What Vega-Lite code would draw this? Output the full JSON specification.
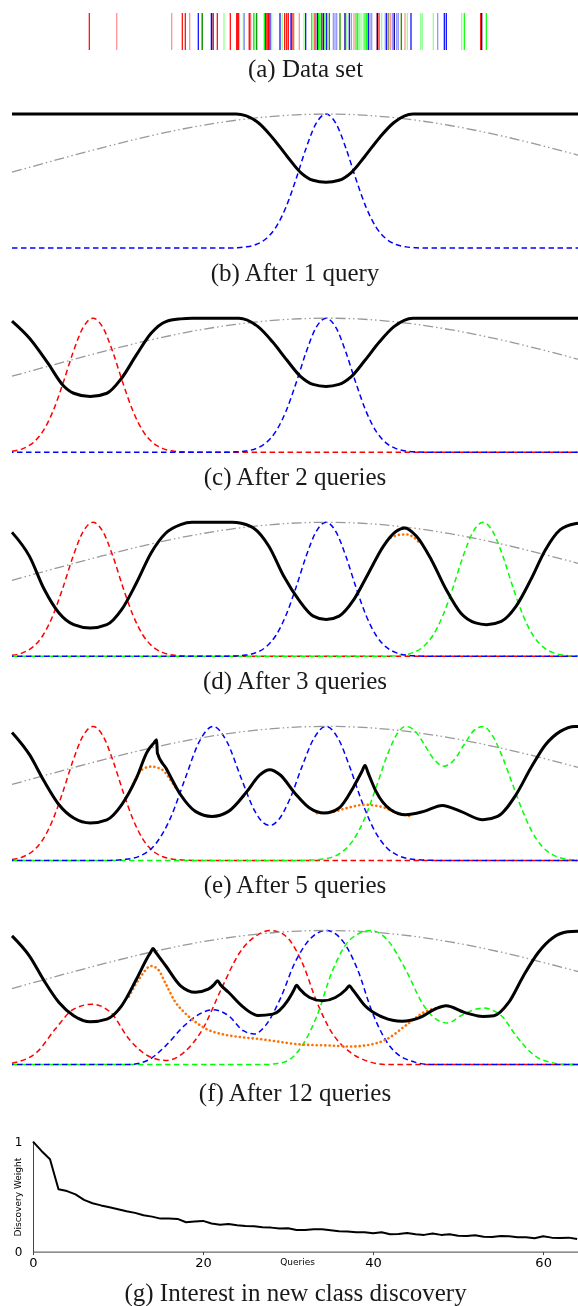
{
"$schema": "https://vega.github.io/schema/vega-lite/v6.json",
"background": "white",
"padding": {"left": 9, "top": 12, "right": 0, "bottom": 0},
"spacing": 29.1,
"align": "none",
"config": {
  "view": {"stroke": null},
  "title": {"font": "Liberation Serif", "fontSize": 25, "fontWeight": "normal", "color": "#1a1a1a", "orient": "bottom", "anchor": "middle", "frame": "bounds"}
},
"resolve": {"scale": {"x": "independent", "y": "independent", "color": "independent", "opacity": "independent"}},
"datasets": {
  "prior": [{"x":12,"v":0.567},{"x":50,"v":0.645},{"x":100,"v":0.745},{"x":150,"v":0.837},{"x":200,"v":0.913},{"x":250,"v":0.967},{"x":300,"v":0.996},{"x":326,"v":1},{"x":350,"v":0.997},{"x":400,"v":0.969},{"x":450,"v":0.915},{"x":500,"v":0.84},{"x":550,"v":0.749},{"x":578,"v":0.694}],
  "b": [
    {"s":"interest","x":12,"v":1},{"s":"interest","x":236,"v":1},{"s":"interest","x":258,"v":0.937},{"s":"interest","x":272.5,"v":0.824},{"s":"interest","x":287,"v":0.686},{"s":"interest","x":301,"v":0.562},{"s":"interest","x":313,"v":0.506},{"s":"interest","x":326,"v":0.491},{"s":"interest","x":339,"v":0.506},{"s":"interest","x":351,"v":0.562},{"s":"interest","x":365,"v":0.686},{"s":"interest","x":379.5,"v":0.824},{"s":"interest","x":394,"v":0.937},{"s":"interest","x":413,"v":1},{"s":"interest","x":578,"v":1},
    {"s":"B","x":12,"v":0},{"s":"B","x":226,"v":0},{"s":"B","x":236,"v":0.0025},{"s":"B","x":246,"v":0.009},{"s":"B","x":256,"v":0.027},{"s":"B","x":266,"v":0.07},{"s":"B","x":276,"v":0.157},{"s":"B","x":286,"v":0.306},{"s":"B","x":296,"v":0.514},{"s":"B","x":306,"v":0.744},{"s":"B","x":316,"v":0.929},{"s":"B","x":326,"v":1},{"s":"B","x":336,"v":0.929},{"s":"B","x":346,"v":0.744},{"s":"B","x":356,"v":0.514},{"s":"B","x":366,"v":0.306},{"s":"B","x":376,"v":0.157},{"s":"B","x":386,"v":0.07},{"s":"B","x":396,"v":0.027},{"s":"B","x":406,"v":0.009},{"s":"B","x":416,"v":0.0025},{"s":"B","x":426,"v":0},{"s":"B","x":578,"v":0}
  ],
  "c": [
    {"s":"interest","x":12,"v":0.978},{"s":"interest","x":29.5,"v":0.85},{"s":"interest","x":47.9,"v":0.664},{"s":"interest","x":62.7,"v":0.502},{"s":"interest","x":73.7,"v":0.44},{"s":"interest","x":90.3,"v":0.415},{"s":"interest","x":106.9,"v":0.44},{"s":"interest","x":121.6,"v":0.552},{"s":"interest","x":136.4,"v":0.726},{"s":"interest","x":151.1,"v":0.888},{"s":"interest","x":165.9,"v":0.975},{"s":"interest","x":180.6,"v":0.995},{"s":"interest","x":192,"v":1},{"s":"interest","x":239,"v":1},{"s":"interest","x":258,"v":0.937},{"s":"interest","x":272.5,"v":0.824},{"s":"interest","x":287,"v":0.686},{"s":"interest","x":301,"v":0.562},{"s":"interest","x":313,"v":0.506},{"s":"interest","x":326,"v":0.491},{"s":"interest","x":339,"v":0.506},{"s":"interest","x":351,"v":0.562},{"s":"interest","x":365,"v":0.686},{"s":"interest","x":379.5,"v":0.824},{"s":"interest","x":394,"v":0.937},{"s":"interest","x":413,"v":1},{"s":"interest","x":578,"v":1},
    {"s":"A","x":12,"v":0.007},{"s":"A","x":23,"v":0.027},{"s":"A","x":33,"v":0.07},{"s":"A","x":43,"v":0.157},{"s":"A","x":53,"v":0.306},{"s":"A","x":63,"v":0.514},{"s":"A","x":73,"v":0.744},{"s":"A","x":83,"v":0.929},{"s":"A","x":93,"v":1},{"s":"A","x":103,"v":0.929},{"s":"A","x":113,"v":0.744},{"s":"A","x":123,"v":0.514},{"s":"A","x":133,"v":0.306},{"s":"A","x":143,"v":0.157},{"s":"A","x":153,"v":0.07},{"s":"A","x":163,"v":0.027},{"s":"A","x":173,"v":0.009},{"s":"A","x":183,"v":0.0025},{"s":"A","x":193,"v":0},{"s":"A","x":578,"v":0},
    {"s":"B","x":12,"v":0},{"s":"B","x":226,"v":0},{"s":"B","x":236,"v":0.0025},{"s":"B","x":246,"v":0.009},{"s":"B","x":256,"v":0.027},{"s":"B","x":266,"v":0.07},{"s":"B","x":276,"v":0.157},{"s":"B","x":286,"v":0.306},{"s":"B","x":296,"v":0.514},{"s":"B","x":306,"v":0.744},{"s":"B","x":316,"v":0.929},{"s":"B","x":326,"v":1},{"s":"B","x":336,"v":0.929},{"s":"B","x":346,"v":0.744},{"s":"B","x":356,"v":0.514},{"s":"B","x":366,"v":0.306},{"s":"B","x":376,"v":0.157},{"s":"B","x":386,"v":0.07},{"s":"B","x":396,"v":0.027},{"s":"B","x":406,"v":0.009},{"s":"B","x":416,"v":0.0025},{"s":"B","x":426,"v":0},{"s":"B","x":578,"v":0}
  ],
  "d": [
    {"s":"interest","x":12,"v":0.925},{"s":"interest","x":29.5,"v":0.746},{"s":"interest","x":44.2,"v":0.5},{"s":"interest","x":59,"v":0.323},{"s":"interest","x":73.7,"v":0.236},{"s":"interest","x":90.3,"v":0.211},{"s":"interest","x":106.9,"v":0.236},{"s":"interest","x":121.6,"v":0.348},{"s":"interest","x":136.4,"v":0.547},{"s":"interest","x":151.1,"v":0.771},{"s":"interest","x":165.9,"v":0.92},{"s":"interest","x":180.6,"v":0.983},{"s":"interest","x":192,"v":1},{"s":"interest","x":232,"v":1},{"s":"interest","x":250.6,"v":0.97},{"s":"interest","x":269,"v":0.82},{"s":"interest","x":283.8,"v":0.597},{"s":"interest","x":298.6,"v":0.423},{"s":"interest","x":313.3,"v":0.3},{"s":"interest","x":326.2,"v":0.274},{"s":"interest","x":339.1,"v":0.3},{"s":"interest","x":353.8,"v":0.423},{"s":"interest","x":368.6,"v":0.622},{"s":"interest","x":383.3,"v":0.821},{"s":"interest","x":396.2,"v":0.933},{"s":"interest","x":404.7,"v":0.958},{"s":"interest","x":416.5,"v":0.896},{"s":"interest","x":431.3,"v":0.721},{"s":"interest","x":446,"v":0.5},{"s":"interest","x":460.7,"v":0.323},{"s":"interest","x":475.5,"v":0.249},{"s":"interest","x":486.5,"v":0.236},{"s":"interest","x":501.3,"v":0.261},{"s":"interest","x":516,"v":0.373},{"s":"interest","x":530.8,"v":0.572},{"s":"interest","x":545.5,"v":0.796},{"s":"interest","x":560.3,"v":0.945},{"s":"interest","x":575,"v":0.99},{"s":"interest","x":578,"v":0.993},
    {"s":"A","x":12,"v":0.007},{"s":"A","x":23,"v":0.027},{"s":"A","x":33,"v":0.07},{"s":"A","x":43,"v":0.157},{"s":"A","x":53,"v":0.306},{"s":"A","x":63,"v":0.514},{"s":"A","x":73,"v":0.744},{"s":"A","x":83,"v":0.929},{"s":"A","x":93,"v":1},{"s":"A","x":103,"v":0.929},{"s":"A","x":113,"v":0.744},{"s":"A","x":123,"v":0.514},{"s":"A","x":133,"v":0.306},{"s":"A","x":143,"v":0.157},{"s":"A","x":153,"v":0.07},{"s":"A","x":163,"v":0.027},{"s":"A","x":173,"v":0.009},{"s":"A","x":183,"v":0.0025},{"s":"A","x":193,"v":0},{"s":"A","x":578,"v":0},
    {"s":"B","x":12,"v":0},{"s":"B","x":226,"v":0},{"s":"B","x":236,"v":0.0025},{"s":"B","x":246,"v":0.009},{"s":"B","x":256,"v":0.027},{"s":"B","x":266,"v":0.07},{"s":"B","x":276,"v":0.157},{"s":"B","x":286,"v":0.306},{"s":"B","x":296,"v":0.514},{"s":"B","x":306,"v":0.744},{"s":"B","x":316,"v":0.929},{"s":"B","x":326,"v":1},{"s":"B","x":336,"v":0.929},{"s":"B","x":346,"v":0.744},{"s":"B","x":356,"v":0.514},{"s":"B","x":366,"v":0.306},{"s":"B","x":376,"v":0.157},{"s":"B","x":386,"v":0.07},{"s":"B","x":396,"v":0.027},{"s":"B","x":406,"v":0.009},{"s":"B","x":416,"v":0.0025},{"s":"B","x":426,"v":0},{"s":"B","x":578,"v":0},
    {"s":"C","x":12,"v":0},{"s":"C","x":383,"v":0},{"s":"C","x":393,"v":0.0025},{"s":"C","x":403,"v":0.009},{"s":"C","x":413,"v":0.027},{"s":"C","x":423,"v":0.07},{"s":"C","x":433,"v":0.157},{"s":"C","x":443,"v":0.306},{"s":"C","x":453,"v":0.514},{"s":"C","x":463,"v":0.744},{"s":"C","x":473,"v":0.929},{"s":"C","x":483,"v":1},{"s":"C","x":493,"v":0.929},{"s":"C","x":503,"v":0.744},{"s":"C","x":513,"v":0.514},{"s":"C","x":523,"v":0.306},{"s":"C","x":533,"v":0.157},{"s":"C","x":543,"v":0.07},{"s":"C","x":553,"v":0.027},{"s":"C","x":563,"v":0.009},{"s":"C","x":573,"v":0.0025},{"s":"C","x":578,"v":0.001},
    {"s":"mix","seg":1,"x":390.7,"v":0.885},{"s":"mix","seg":1,"x":398,"v":0.905},{"s":"mix","seg":1,"x":405.5,"v":0.91},{"s":"mix","seg":1,"x":412.8,"v":0.893},{"s":"mix","seg":1,"x":420.2,"v":0.84}
  ],
  "e": [
    {"s":"interest","x":12,"v":0.955},{"s":"interest","x":29.5,"v":0.789},{"s":"interest","x":44.2,"v":0.59},{"s":"interest","x":59,"v":0.415},{"s":"interest","x":73.7,"v":0.316},{"s":"interest","x":90.3,"v":0.279},{"s":"interest","x":106.9,"v":0.303},{"s":"interest","x":121.6,"v":0.415},{"s":"interest","x":136.4,"v":0.614},{"s":"interest","x":147.4,"v":0.813},{"s":"interest","x":154,"v":0.877},{"s":"interest","x":156.6,"v":0.9},{"s":"interest","x":157.4,"v":0.8},{"s":"interest","x":165.9,"v":0.689},{"s":"interest","x":180.6,"v":0.49},{"s":"interest","x":195.4,"v":0.366},{"s":"interest","x":212,"v":0.328},{"s":"interest","x":228.5,"v":0.366},{"s":"interest","x":247,"v":0.515},{"s":"interest","x":259.9,"v":0.639},{"s":"interest","x":269.8,"v":0.677},{"s":"interest","x":280,"v":0.639},{"s":"interest","x":294.9,"v":0.502},{"s":"interest","x":309.6,"v":0.391},{"s":"interest","x":324.4,"v":0.353},{"s":"interest","x":339.1,"v":0.391},{"s":"interest","x":353.8,"v":0.552},{"s":"interest","x":362,"v":0.665},{"s":"interest","x":365,"v":0.709},{"s":"interest","x":368,"v":0.655},{"s":"interest","x":376,"v":0.515},{"s":"interest","x":390.7,"v":0.378},{"s":"interest","x":405.5,"v":0.341},{"s":"interest","x":423.9,"v":0.366},{"s":"interest","x":442.3,"v":0.41},{"s":"interest","x":460.7,"v":0.366},{"s":"interest","x":482.9,"v":0.303},{"s":"interest","x":497.6,"v":0.328},{"s":"interest","x":516,"v":0.49},{"s":"interest","x":530.8,"v":0.689},{"s":"interest","x":545.5,"v":0.863},{"s":"interest","x":560.3,"v":0.963},{"s":"interest","x":575,"v":1},{"s":"interest","x":578,"v":1},
    {"s":"A","x":12,"v":0.007},{"s":"A","x":23,"v":0.027},{"s":"A","x":33,"v":0.07},{"s":"A","x":43,"v":0.157},{"s":"A","x":53,"v":0.306},{"s":"A","x":63,"v":0.514},{"s":"A","x":73,"v":0.744},{"s":"A","x":83,"v":0.929},{"s":"A","x":93,"v":1},{"s":"A","x":103,"v":0.929},{"s":"A","x":113,"v":0.744},{"s":"A","x":123,"v":0.514},{"s":"A","x":133,"v":0.306},{"s":"A","x":143,"v":0.157},{"s":"A","x":153,"v":0.07},{"s":"A","x":163,"v":0.027},{"s":"A","x":173,"v":0.009},{"s":"A","x":183,"v":0.0025},{"s":"A","x":193,"v":0},{"s":"A","x":578,"v":0},
    {"s":"B","x":12,"v":0},{"s":"B","x":110,"v":0},{"s":"B","x":125,"v":0.007},{"s":"B","x":140,"v":0.033},{"s":"B","x":155,"v":0.117},{"s":"B","x":170,"v":0.308},{"s":"B","x":185,"v":0.607},{"s":"B","x":199,"v":0.882},{"s":"B","x":213,"v":1},{"s":"B","x":227,"v":0.884},{"s":"B","x":241,"v":0.617},{"s":"B","x":255,"v":0.365},{"s":"B","x":263,"v":0.283},{"s":"B","x":270,"v":0.261},{"s":"B","x":278,"v":0.298},{"s":"B","x":290,"v":0.46},{"s":"B","x":302,"v":0.7},{"s":"B","x":314,"v":0.912},{"s":"B","x":326,"v":1},{"s":"B","x":338,"v":0.912},{"s":"B","x":350,"v":0.693},{"s":"B","x":362,"v":0.437},{"s":"B","x":374,"v":0.23},{"s":"B","x":386,"v":0.1},{"s":"B","x":398,"v":0.037},{"s":"B","x":410,"v":0.011},{"s":"B","x":425,"v":0.002},{"s":"B","x":440,"v":0},{"s":"B","x":578,"v":0},
    {"s":"C","x":12,"v":0},{"s":"C","x":300,"v":0},{"s":"C","x":310,"v":0.002},{"s":"C","x":325,"v":0.012},{"s":"C","x":340,"v":0.052},{"s":"C","x":352,"v":0.138},{"s":"C","x":364,"v":0.302},{"s":"C","x":376,"v":0.542},{"s":"C","x":388,"v":0.8},{"s":"C","x":398,"v":0.954},{"s":"C","x":405.5,"v":1},{"s":"C","x":414,"v":0.974},{"s":"C","x":424,"v":0.869},{"s":"C","x":434,"v":0.754},{"s":"C","x":444,"v":0.703},{"s":"C","x":454,"v":0.749},{"s":"C","x":464,"v":0.863},{"s":"C","x":474,"v":0.97},{"s":"C","x":483,"v":1},{"s":"C","x":492,"v":0.937},{"s":"C","x":502,"v":0.78},{"s":"C","x":512,"v":0.58},{"s":"C","x":522,"v":0.38},{"s":"C","x":532,"v":0.215},{"s":"C","x":542,"v":0.105},{"s":"C","x":552,"v":0.045},{"s":"C","x":562,"v":0.016},{"s":"C","x":572,"v":0.005},{"s":"C","x":578,"v":0.002},
    {"s":"mix","seg":1,"x":133,"v":0.57},{"s":"mix","seg":1,"x":141.9,"v":0.677},{"s":"mix","seg":1,"x":151.1,"v":0.7},{"s":"mix","seg":1,"x":162.2,"v":0.677},{"s":"mix","seg":1,"x":171.4,"v":0.59},{"s":"mix","seg":1,"x":177,"v":0.527},
    {"s":"mix","seg":2,"x":317,"v":0.353},{"s":"mix","seg":2,"x":331.7,"v":0.36},{"s":"mix","seg":2,"x":346.5,"v":0.39},{"s":"mix","seg":2,"x":365,"v":0.415},{"s":"mix","seg":2,"x":383.3,"v":0.396},{"s":"mix","seg":2,"x":398,"v":0.353},{"s":"mix","seg":2,"x":411,"v":0.328}
  ],
  "f": [
    {"s":"interest","x":12,"v":0.96},{"s":"interest","x":29.5,"v":0.809},{"s":"interest","x":44.2,"v":0.624},{"s":"interest","x":59,"v":0.463},{"s":"interest","x":73.7,"v":0.364},{"s":"interest","x":90.3,"v":0.319},{"s":"interest","x":106.9,"v":0.339},{"s":"interest","x":121.6,"v":0.438},{"s":"interest","x":136.4,"v":0.636},{"s":"interest","x":147.4,"v":0.797},{"s":"interest","x":150.5,"v":0.835},{"s":"interest","x":153,"v":0.866},{"s":"interest","x":156,"v":0.835},{"s":"interest","x":165.9,"v":0.735},{"s":"interest","x":180.6,"v":0.587},{"s":"interest","x":195.4,"v":0.539},{"s":"interest","x":208.3,"v":0.562},{"s":"interest","x":214.5,"v":0.6},{"s":"interest","x":217.5,"v":0.625},{"s":"interest","x":220.5,"v":0.595},{"s":"interest","x":228.5,"v":0.539},{"s":"interest","x":243.3,"v":0.428},{"s":"interest","x":258,"v":0.366},{"s":"interest","x":272.8,"v":0.376},{"s":"interest","x":287.5,"v":0.475},{"s":"interest","x":293.5,"v":0.55},{"s":"interest","x":296.7,"v":0.592},{"s":"interest","x":299.5,"v":0.565},{"s":"interest","x":309.6,"v":0.5},{"s":"interest","x":322.5,"v":0.475},{"s":"interest","x":335.4,"v":0.5},{"s":"interest","x":346,"v":0.56},{"s":"interest","x":349.4,"v":0.587},{"s":"interest","x":352.5,"v":0.56},{"s":"interest","x":365,"v":0.438},{"s":"interest","x":383.3,"v":0.351},{"s":"interest","x":401.8,"v":0.322},{"s":"interest","x":420.2,"v":0.351},{"s":"interest","x":435,"v":0.413},{"s":"interest","x":446,"v":0.438},{"s":"interest","x":464.4,"v":0.389},{"s":"interest","x":482.9,"v":0.359},{"s":"interest","x":494,"v":0.364},{"s":"interest","x":508.7,"v":0.463},{"s":"interest","x":523.4,"v":0.661},{"s":"interest","x":538.1,"v":0.834},{"s":"interest","x":552.9,"v":0.946},{"s":"interest","x":567.6,"v":0.99},{"s":"interest","x":578,"v":0.995},
    {"s":"A","x":12,"v":0.01},{"s":"A","x":36.9,"v":0.092},{"s":"A","x":55.3,"v":0.265},{"s":"A","x":73.7,"v":0.413},{"s":"A","x":92.1,"v":0.45},{"s":"A","x":110.6,"v":0.389},{"s":"A","x":129,"v":0.19},{"s":"A","x":147.4,"v":0.067},{"s":"A","x":165.9,"v":0.03},{"s":"A","x":184.3,"v":0.092},{"s":"A","x":202.7,"v":0.265},{"s":"A","x":221.2,"v":0.562},{"s":"A","x":239.6,"v":0.834},{"s":"A","x":258,"v":0.97},{"s":"A","x":271,"v":1},{"s":"A","x":283.8,"v":0.97},{"s":"A","x":302.2,"v":0.76},{"s":"A","x":317,"v":0.463},{"s":"A","x":331.7,"v":0.24},{"s":"A","x":350.2,"v":0.092},{"s":"A","x":368.6,"v":0.022},{"s":"A","x":387,"v":0},{"s":"A","x":578,"v":0},
    {"s":"B","x":12,"v":0},{"s":"B","x":129,"v":0},{"s":"B","x":147.4,"v":0.03},{"s":"B","x":165.9,"v":0.141},{"s":"B","x":184.3,"v":0.29},{"s":"B","x":202.7,"v":0.389},{"s":"B","x":213,"v":0.408},{"s":"B","x":228.5,"v":0.364},{"s":"B","x":243.3,"v":0.252},{"s":"B","x":254.3,"v":0.228},{"s":"B","x":265.4,"v":0.29},{"s":"B","x":280.1,"v":0.488},{"s":"B","x":294.9,"v":0.76},{"s":"B","x":309.6,"v":0.933},{"s":"B","x":326.2,"v":1},{"s":"B","x":342.8,"v":0.921},{"s":"B","x":357.5,"v":0.71},{"s":"B","x":372.3,"v":0.389},{"s":"B","x":387,"v":0.166},{"s":"B","x":405.5,"v":0.042},{"s":"B","x":431.3,"v":0},{"s":"B","x":578,"v":0},
    {"s":"C","x":12,"v":0},{"s":"C","x":265.4,"v":0},{"s":"C","x":283.8,"v":0.017},{"s":"C","x":302.2,"v":0.141},{"s":"C","x":317,"v":0.364},{"s":"C","x":331.7,"v":0.686},{"s":"C","x":350.2,"v":0.933},{"s":"C","x":370.4,"v":1},{"s":"C","x":387,"v":0.933},{"s":"C","x":405.5,"v":0.71},{"s":"C","x":423.9,"v":0.438},{"s":"C","x":438.6,"v":0.327},{"s":"C","x":447.8,"v":0.309},{"s":"C","x":460.7,"v":0.364},{"s":"C","x":482.9,"v":0.421},{"s":"C","x":501.3,"v":0.364},{"s":"C","x":516,"v":0.215},{"s":"C","x":534.5,"v":0.067},{"s":"C","x":552.9,"v":0.012},{"s":"C","x":567.6,"v":0},{"s":"C","x":578,"v":0},
    {"s":"mix","seg":1,"x":129,"v":0.507},{"s":"mix","seg":1,"x":140,"v":0.648},{"s":"mix","seg":1,"x":151,"v":0.735},{"s":"mix","seg":1,"x":158,"v":0.71},{"s":"mix","seg":1,"x":165.9,"v":0.6},{"s":"mix","seg":1,"x":175,"v":0.47},{"s":"mix","seg":1,"x":184.3,"v":0.389},{"s":"mix","seg":1,"x":195,"v":0.32},{"s":"mix","seg":1,"x":206.4,"v":0.265},{"s":"mix","seg":1,"x":221.2,"v":0.228},{"s":"mix","seg":1,"x":240,"v":0.205},{"s":"mix","seg":1,"x":258,"v":0.191},{"s":"mix","seg":1,"x":277,"v":0.172},{"s":"mix","seg":1,"x":295,"v":0.153},{"s":"mix","seg":1,"x":313,"v":0.145},{"s":"mix","seg":1,"x":331.7,"v":0.141},{"s":"mix","seg":1,"x":350,"v":0.134},{"s":"mix","seg":1,"x":368.6,"v":0.146},{"s":"mix","seg":1,"x":387,"v":0.19},{"s":"mix","seg":1,"x":405.5,"v":0.29},{"s":"mix","seg":1,"x":423.9,"v":0.389},{"s":"mix","seg":1,"x":440,"v":0.428}
  ]
},
"vconcat": [
  {
    "width": 545, "height": 37,
    "title": {"text": "(a) Data set", "orient": "bottom", "offset": 6},
    "data": {"values": [
      {"x":89.3,"c":"A","w":1},{"x":116.7,"c":"A","w":0.5},{"x":171.7,"c":"A","w":0.5},{"x":182.3,"c":"A","w":1},{"x":185.3,"c":"A","w":1},{"x":189.7,"c":"A","w":0.5},{"x":198.3,"c":"B","w":1},{"x":201.7,"c":"C","w":0.5},{"x":202.3,"c":"C","w":1},{"x":202.3,"c":"A","w":0.5},{"x":211,"c":"B","w":0.5},{"x":211.7,"c":"B","w":1},{"x":211.7,"c":"A","w":0.5},{"x":213.3,"c":"A","w":1},{"x":217.3,"c":"A","w":1},{"x":224,"c":"C","w":0.5},{"x":230.3,"c":"A","w":1},{"x":236.7,"c":"A","w":1},{"x":237.7,"c":"A","w":1},{"x":238.7,"c":"A","w":1},{"x":243.3,"c":"C","w":0.5},{"x":244.3,"c":"B","w":0.5},{"x":248.7,"c":"A","w":0.5},{"x":249.7,"c":"A","w":1},{"x":250.7,"c":"A","w":0.5},{"x":253.7,"c":"C","w":1},{"x":254.7,"c":"C","w":0.5},{"x":256.7,"c":"C","w":1},{"x":256.7,"c":"A","w":0.5},{"x":264.3,"c":"C","w":1},{"x":265.3,"c":"C","w":1},{"x":266,"c":"A","w":1},{"x":267.2,"c":"A","w":1},{"x":268.5,"c":"A","w":1},{"x":270,"c":"B","w":1},{"x":271.7,"c":"C","w":0.5},{"x":280,"c":"B","w":1},{"x":282.3,"c":"C","w":0.5},{"x":284.7,"c":"A","w":1},{"x":286.7,"c":"A","w":1},{"x":288.3,"c":"A","w":1},{"x":291,"c":"B","w":1},{"x":292,"c":"A","w":1},{"x":293.7,"c":"A","w":0.5},{"x":293.7,"c":"C","w":0.5},{"x":299.3,"c":"A","w":0.5},{"x":304,"c":"C","w":0.5},{"x":305.7,"c":"B","w":1},{"x":311.7,"c":"C","w":1},{"x":313.3,"c":"C","w":0.5},{"x":315,"c":"A","w":1},{"x":317.3,"c":"B","w":1},{"x":317.3,"c":"A","w":0.5},{"x":318.5,"c":"C","w":1},{"x":320,"c":"C","w":1},{"x":321.7,"c":"A","w":1},{"x":323.3,"c":"B","w":1},{"x":323.3,"c":"A","w":0.5},{"x":325,"c":"C","w":1},{"x":326.7,"c":"B","w":1},{"x":329.3,"c":"C","w":1},{"x":329.3,"c":"A","w":0.5},{"x":333.3,"c":"B","w":0.5},{"x":335,"c":"B","w":0.5},{"x":336.7,"c":"B","w":0.5},{"x":340,"c":"C","w":1},{"x":340,"c":"A","w":0.5},{"x":345,"c":"B","w":1},{"x":345,"c":"A","w":0.5},{"x":346.7,"c":"C","w":0.5},{"x":349.3,"c":"B","w":1},{"x":351.3,"c":"B","w":0.5},{"x":354,"c":"A","w":0.5},{"x":356,"c":"C","w":1},{"x":357.7,"c":"C","w":1},{"x":359.3,"c":"C","w":0.5},{"x":361,"c":"C","w":0.5},{"x":363.3,"c":"C","w":0.5},{"x":365,"c":"C","w":1},{"x":366.7,"c":"C","w":1},{"x":368.3,"c":"B","w":1},{"x":370,"c":"B","w":0.5},{"x":371.7,"c":"B","w":0.5},{"x":377.3,"c":"B","w":1},{"x":377.3,"c":"A","w":1},{"x":379,"c":"A","w":1},{"x":381.7,"c":"C","w":0.5},{"x":385.3,"c":"B","w":0.5},{"x":386.7,"c":"B","w":1},{"x":388.7,"c":"C","w":0.5},{"x":388.7,"c":"A","w":0.5},{"x":390.7,"c":"A","w":0.5},{"x":392.7,"c":"B","w":0.5},{"x":394.3,"c":"B","w":1},{"x":394.3,"c":"A","w":0.5},{"x":396.7,"c":"B","w":0.5},{"x":398.3,"c":"B","w":0.5},{"x":401.3,"c":"C","w":1},{"x":401.3,"c":"A","w":0.5},{"x":405,"c":"A","w":0.5},{"x":407.3,"c":"C","w":0.5},{"x":411,"c":"B","w":1},{"x":420.7,"c":"C","w":0.5},{"x":422.3,"c":"C","w":0.5},{"x":433.3,"c":"C","w":0.5},{"x":437.7,"c":"B","w":0.5},{"x":444.3,"c":"B","w":1},{"x":446.3,"c":"B","w":1},{"x":461.7,"c":"C","w":0.5},{"x":464.3,"c":"C","w":1},{"x":480.7,"c":"A","w":1},{"x":481.7,"c":"B","w":1},{"x":481.7,"c":"A","w":0.5},{"x":486.3,"c":"C","w":1}
    ]},
    "mark": {"type": "rule", "strokeWidth": 1.2, "blend": "multiply"},
    "encoding": {
      "x": {"field": "x", "type": "quantitative", "scale": {"domain": [33, 578], "nice": false, "zero": false}, "axis": null},
      "color": {"field": "c", "type": "nominal", "scale": {"domain": ["A","B","C"], "range": ["#ff0000","#0000ff","#00ff00"]}, "legend": null},
      "opacity": {"field": "w", "type": "quantitative", "scale": {"domain": [0.5, 1], "range": [0.45, 1]}, "legend": null}
    }
  },
  {
    "width": 545, "height": 138,
    "title": {"text": "(b) After 1 query", "orient": "bottom", "offset": 10},
    "encoding": {
      "x": {"field": "x", "type": "quantitative", "scale": {"domain": [33, 578], "nice": false, "zero": false}, "axis": null},
      "y": {"field": "v", "type": "quantitative", "scale": {"domain": [-0.015, 1.015], "nice": false, "zero": false}, "axis": null}
    },
    "layer": [
      {"data": {"name": "b"}, "transform": [{"filter": "datum.s === 'B'"}], "mark": {"type": "line", "color": "#0000ff", "strokeWidth": 1.5, "strokeDash": [5.5, 3.5], "interpolate": "monotone"}},
      {"data": {"name": "prior"}, "mark": {"type": "line", "color": "#999999", "strokeWidth": 1.3, "strokeDash": [10, 3, 1.5, 3, 1.5, 3], "interpolate": "monotone"}},
      {"data": {"name": "b"}, "transform": [{"filter": "datum.s === 'interest'"}], "mark": {"type": "line", "color": "#000000", "strokeWidth": 3, "strokeJoin": "round", "interpolate": "monotone"}}
    ]
  },
  {
    "width": 545, "height": 138,
    "title": {"text": "(c) After 2 queries", "orient": "bottom", "offset": 10},
    "encoding": {
      "x": {"field": "x", "type": "quantitative", "scale": {"domain": [33, 578], "nice": false, "zero": false}, "axis": null},
      "y": {"field": "v", "type": "quantitative", "scale": {"domain": [-0.015, 1.015], "nice": false, "zero": false}, "axis": null}
    },
    "layer": [
      {"data": {"name": "c"}, "transform": [{"filter": "datum.s === 'A'"}], "mark": {"type": "line", "color": "#ff0000", "strokeWidth": 1.5, "strokeDash": [5.5, 3.5], "interpolate": "monotone"}},
      {"data": {"name": "c"}, "transform": [{"filter": "datum.s === 'B'"}], "mark": {"type": "line", "color": "#0000ff", "strokeWidth": 1.5, "strokeDash": [5.5, 3.5], "strokeDashOffset": 4, "interpolate": "monotone"}},
      {"data": {"name": "prior"}, "mark": {"type": "line", "color": "#999999", "strokeWidth": 1.3, "strokeDash": [10, 3, 1.5, 3, 1.5, 3], "interpolate": "monotone"}},
      {"data": {"name": "c"}, "transform": [{"filter": "datum.s === 'interest'"}], "mark": {"type": "line", "color": "#000000", "strokeWidth": 3, "strokeJoin": "round", "interpolate": "monotone"}}
    ]
  },
  {
    "width": 545, "height": 138,
    "title": {"text": "(d) After 3 queries", "orient": "bottom", "offset": 10},
    "encoding": {
      "x": {"field": "x", "type": "quantitative", "scale": {"domain": [33, 578], "nice": false, "zero": false}, "axis": null},
      "y": {"field": "v", "type": "quantitative", "scale": {"domain": [-0.015, 1.015], "nice": false, "zero": false}, "axis": null}
    },
    "layer": [
      {"data": {"name": "d"}, "transform": [{"filter": "datum.s === 'A'"}], "mark": {"type": "line", "color": "#ff0000", "strokeWidth": 1.5, "strokeDash": [5.5, 3.5], "interpolate": "monotone"}},
      {"data": {"name": "d"}, "transform": [{"filter": "datum.s === 'C'"}], "mark": {"type": "line", "color": "#00ff00", "strokeWidth": 1.5, "strokeDash": [5.5, 3.5], "interpolate": "monotone"}},
      {"data": {"name": "d"}, "transform": [{"filter": "datum.s === 'B'"}], "mark": {"type": "line", "color": "#0000ff", "strokeWidth": 1.5, "strokeDash": [5.5, 3.5], "strokeDashOffset": 4, "interpolate": "monotone"}},
      {"data": {"name": "d"}, "transform": [{"filter": "datum.s === 'mix'"}], "mark": {"type": "line", "color": "#ff7000", "strokeWidth": 2.6, "strokeDash": [0.1, 4.2], "strokeCap": "round", "interpolate": "monotone"}, "encoding": {"detail": {"field": "seg", "type": "nominal"}}},
      {"data": {"name": "prior"}, "mark": {"type": "line", "color": "#999999", "strokeWidth": 1.3, "strokeDash": [10, 3, 1.5, 3, 1.5, 3], "interpolate": "monotone"}},
      {"data": {"name": "d"}, "transform": [{"filter": "datum.s === 'interest'"}], "mark": {"type": "line", "color": "#000000", "strokeWidth": 3, "strokeJoin": "round", "interpolate": "monotone"}}
    ]
  },
  {
    "width": 545, "height": 138,
    "title": {"text": "(e) After 5 queries", "orient": "bottom", "offset": 10},
    "encoding": {
      "x": {"field": "x", "type": "quantitative", "scale": {"domain": [33, 578], "nice": false, "zero": false}, "axis": null},
      "y": {"field": "v", "type": "quantitative", "scale": {"domain": [-0.015, 1.015], "nice": false, "zero": false}, "axis": null}
    },
    "layer": [
      {"data": {"name": "e"}, "transform": [{"filter": "datum.s === 'A'"}], "mark": {"type": "line", "color": "#ff0000", "strokeWidth": 1.5, "strokeDash": [5.5, 3.5], "interpolate": "monotone"}},
      {"data": {"name": "e"}, "transform": [{"filter": "datum.s === 'C'"}], "mark": {"type": "line", "color": "#00ff00", "strokeWidth": 1.5, "strokeDash": [5.5, 3.5], "interpolate": "monotone"}},
      {"data": {"name": "e"}, "transform": [{"filter": "datum.s === 'B'"}], "mark": {"type": "line", "color": "#0000ff", "strokeWidth": 1.5, "strokeDash": [5.5, 3.5], "strokeDashOffset": 4, "interpolate": "monotone"}},
      {"data": {"name": "e"}, "transform": [{"filter": "datum.s === 'mix'"}], "mark": {"type": "line", "color": "#ff7000", "strokeWidth": 2.6, "strokeDash": [0.1, 4.2], "strokeCap": "round", "interpolate": "monotone"}, "encoding": {"detail": {"field": "seg", "type": "nominal"}}},
      {"data": {"name": "prior"}, "mark": {"type": "line", "color": "#999999", "strokeWidth": 1.3, "strokeDash": [10, 3, 1.5, 3, 1.5, 3], "interpolate": "monotone"}},
      {"data": {"name": "e"}, "transform": [{"filter": "datum.s === 'interest'"}], "mark": {"type": "line", "color": "#000000", "strokeWidth": 3, "strokeJoin": "round", "interpolate": "monotone"}}
    ]
  },
  {
    "width": 545, "height": 138,
    "title": {"text": "(f) After 12 queries", "orient": "bottom", "offset": 13.5},
    "encoding": {
      "x": {"field": "x", "type": "quantitative", "scale": {"domain": [33, 578], "nice": false, "zero": false}, "axis": null},
      "y": {"field": "v", "type": "quantitative", "scale": {"domain": [-0.015, 1.015], "nice": false, "zero": false}, "axis": null}
    },
    "layer": [
      {"data": {"name": "f"}, "transform": [{"filter": "datum.s === 'A'"}], "mark": {"type": "line", "color": "#ff0000", "strokeWidth": 1.5, "strokeDash": [5.5, 3.5], "interpolate": "monotone"}},
      {"data": {"name": "f"}, "transform": [{"filter": "datum.s === 'C'"}], "mark": {"type": "line", "color": "#00ff00", "strokeWidth": 1.5, "strokeDash": [5.5, 3.5], "interpolate": "monotone"}},
      {"data": {"name": "f"}, "transform": [{"filter": "datum.s === 'B'"}], "mark": {"type": "line", "color": "#0000ff", "strokeWidth": 1.5, "strokeDash": [5.5, 3.5], "strokeDashOffset": 4, "interpolate": "monotone"}},
      {"data": {"name": "f"}, "transform": [{"filter": "datum.s === 'mix'"}], "mark": {"type": "line", "color": "#ff7000", "strokeWidth": 2.6, "strokeDash": [0.1, 4.2], "strokeCap": "round", "interpolate": "monotone"}, "encoding": {"detail": {"field": "seg", "type": "nominal"}}},
      {"data": {"name": "prior"}, "mark": {"type": "line", "color": "#999999", "strokeWidth": 1.3, "strokeDash": [10, 3, 1.5, 3, 1.5, 3], "interpolate": "monotone"}},
      {"data": {"name": "f"}, "transform": [{"filter": "datum.s === 'interest'"}], "mark": {"type": "line", "color": "#000000", "strokeWidth": 3, "strokeJoin": "round", "interpolate": "monotone"}}
    ]
  },
  {
    "width": 545, "height": 110,
    "title": {"text": "(g) Interest in new class discovery", "orient": "bottom", "offset": 11},
    "data": {"values": [
      {"q":0,"w":1},{"q":1,"w":0.915},{"q":2,"w":0.84},{"q":3,"w":0.567},{"q":4,"w":0.55},{"q":5,"w":0.52},{"q":6,"w":0.47},{"q":7,"w":0.44},{"q":8,"w":0.42},{"q":9,"w":0.403},{"q":10,"w":0.385},{"q":11,"w":0.367},{"q":12,"w":0.352},{"q":13,"w":0.33},{"q":14,"w":0.318},{"q":15,"w":0.3},{"q":16,"w":0.3},{"q":17,"w":0.297},{"q":18,"w":0.267},{"q":19,"w":0.273},{"q":20,"w":0.279},{"q":21,"w":0.255},{"q":22,"w":0.245},{"q":23,"w":0.251},{"q":24,"w":0.24},{"q":25,"w":0.233},{"q":26,"w":0.23},{"q":27,"w":0.221},{"q":28,"w":0.218},{"q":29,"w":0.209},{"q":30,"w":0.212},{"q":31,"w":0.196},{"q":32,"w":0.197},{"q":33,"w":0.203},{"q":34,"w":0.203},{"q":35,"w":0.194},{"q":36,"w":0.185},{"q":37,"w":0.182},{"q":38,"w":0.176},{"q":39,"w":0.176},{"q":40,"w":0.167},{"q":41,"w":0.176},{"q":42,"w":0.158},{"q":43,"w":0.161},{"q":44,"w":0.17},{"q":45,"w":0.158},{"q":46,"w":0.152},{"q":47,"w":0.164},{"q":48,"w":0.152},{"q":49,"w":0.158},{"q":50,"w":0.145},{"q":51,"w":0.142},{"q":52,"w":0.148},{"q":53,"w":0.136},{"q":54,"w":0.133},{"q":55,"w":0.142},{"q":56,"w":0.139},{"q":57,"w":0.13},{"q":58,"w":0.13},{"q":59,"w":0.121},{"q":60,"w":0.139},{"q":61,"w":0.127},{"q":62,"w":0.124},{"q":63,"w":0.127},{"q":64,"w":0.115}
    ]},
    "mark": {"type": "line", "color": "#000000", "strokeWidth": 2, "strokeJoin": "round"},
    "encoding": {
      "x": {"field": "q", "type": "quantitative", "scale": {"domain": [0, 64.1], "nice": false, "zero": false},
        "axis": {"values": [0, 20, 40, 60], "format": "d", "title": "Queries", "titleFont": "DejaVu Sans", "titleFontSize": 9, "titleFontWeight": "normal", "titleColor": "#000", "titleX": 264, "titleY": 13, "titleBaseline": "alphabetic", "labelFont": "DejaVu Sans", "labelFontSize": 13, "labelColor": "#000", "labelFlush": false, "tickSize": 3, "labelPadding": 2, "tickColor": "#444", "domainColor": "#444", "grid": false}},
      "y": {"field": "w", "type": "quantitative", "scale": {"domain": [0, 1], "nice": false, "zero": false},
        "axis": {"values": [0, 1], "format": "d", "title": "Discovery Weight", "titleFont": "DejaVu Sans", "titleFontSize": 9, "titleFontWeight": "normal", "titleColor": "#000", "titleX": -16, "titleY": 55, "titleAngle": 270, "titleAlign": "center", "titleBaseline": "middle", "labelFont": "DejaVu Sans", "labelFontSize": 12, "labelColor": "#000", "labelPadding": 11, "tickSize": 0, "domainColor": "#444", "grid": false}}
    }
  }
]
}
